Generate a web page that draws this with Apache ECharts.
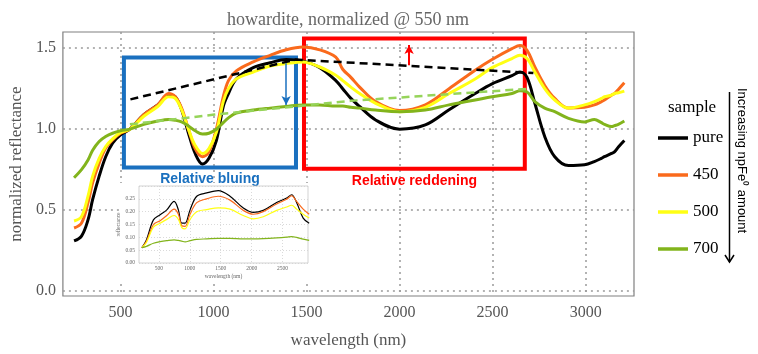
<!DOCTYPE html>
<html><head><meta charset="utf-8">
<script src="https://cdn.jsdelivr.net/npm/echarts@6/dist/echarts.min.js"></script>
<style>html,body{margin:0;padding:0;background:#fff}#c{width:758px;height:354px}</style>
</head><body><div id="c"></div><script>
// ---- main panel data (normalized @ 550 nm) ----
const wavelength = [250,290,325,350,385,420,457,500,550,625,700,758,794,828,865,901,940,975,1015,1052,1080,1122,1213,1304,1390,1480,1571,1657,1694,1738,1785,1871,2000,2138,2266,2406,2497,2604,2647,2685,2727,2780,2834,2908,2994,3047,3085,3101,3139,3155,3176,3208];
const pure   = [0.31,0.34,0.44,0.566,0.71,0.83,0.914,0.965,1.0,1.09,1.15,1.21,1.20,1.12,0.975,0.85,0.785,0.82,0.93,1.14,1.22,1.31,1.38,1.41,1.43,1.42,1.38,1.30,1.25,1.19,1.14,1.057,1.0,1.026,1.12,1.22,1.28,1.33,1.353,1.32,1.16,0.955,0.83,0.775,0.78,0.80,0.82,0.83,0.85,0.86,0.89,0.93];
const s450   = [0.39,0.42,0.546,0.67,0.79,0.883,0.934,0.975,1.0,1.09,1.15,1.22,1.20,1.13,1.0,0.88,0.83,0.86,1.0,1.20,1.30,1.36,1.415,1.456,1.49,1.507,1.49,1.445,1.37,1.32,1.26,1.17,1.115,1.15,1.25,1.364,1.43,1.497,1.517,1.487,1.384,1.27,1.19,1.13,1.135,1.15,1.17,1.18,1.21,1.22,1.245,1.286];
const s500   = [0.433,0.46,0.587,0.71,0.82,0.893,0.94,0.98,1.0,1.08,1.14,1.20,1.19,1.12,1.0,0.90,0.85,0.88,0.98,1.17,1.25,1.31,1.353,1.39,1.405,1.415,1.384,1.333,1.30,1.26,1.22,1.16,1.108,1.135,1.22,1.31,1.38,1.436,1.456,1.436,1.353,1.25,1.18,1.13,1.15,1.17,1.19,1.20,1.21,1.22,1.225,1.235];
const s700   = [0.70,0.75,0.81,0.87,0.924,0.955,0.975,0.99,1.0,1.03,1.05,1.06,1.055,1.045,1.02,0.99,0.97,0.975,1.0,1.04,1.07,1.10,1.118,1.13,1.14,1.15,1.15,1.143,1.143,1.135,1.13,1.118,1.108,1.118,1.15,1.18,1.20,1.22,1.237,1.23,1.17,1.13,1.108,1.067,1.045,1.06,1.04,1.03,1.016,1.022,1.03,1.05];
const continuumPure = [[553,1.184],[1443,1.43],[2719,1.347]];
const continuum700  = [[550,1.03],[1005,1.09],[1738,1.175],[2697,1.25]];
const bluingBox = [[518,1.443],[1443,0.763]];
const reddeningBox = [[1486,1.56],[2673,0.756]];
const bluingArrow = [[1390,1.407],[1390,1.15]];
const reddeningArrow = [[2051,1.395],[2051,1.52]];
const xTicks = [500,1000,1500,2000,2500,3000];
const yTicks = [0,0.5,1.0,1.5];
// ---- inset data (absolute reflectance) ----
const insetWl   = [226,300,413,521,629,747,816,871,924,1005,1113,1274,1461,1650,1865,2026,2187,2403,2565,2645,2726,2832,2929];
const insetPure = [0.059,0.09,0.168,0.188,0.207,0.24,0.207,0.155,0.155,0.207,0.26,0.273,0.282,0.26,0.214,0.197,0.205,0.236,0.253,0.266,0.236,0.175,0.155];
const inset450  = [0.06,0.085,0.15,0.165,0.185,0.21,0.19,0.145,0.143,0.19,0.235,0.25,0.26,0.245,0.205,0.19,0.2,0.23,0.248,0.262,0.24,0.21,0.19];
const inset500  = [0.06,0.08,0.14,0.155,0.17,0.185,0.17,0.138,0.133,0.17,0.2,0.208,0.215,0.21,0.185,0.172,0.18,0.205,0.218,0.225,0.21,0.19,0.175];
const inset700  = [0.06,0.065,0.077,0.083,0.087,0.09,0.088,0.085,0.082,0.087,0.092,0.094,0.096,0.096,0.094,0.094,0.095,0.098,0.101,0.103,0.1,0.093,0.088];
const insetXTicks = [500,1000,1500,2000,2500];

const zip = (xs, ys) => xs.map((x, i) => [x, ys[i]]);
const SERIF = 'Liberation Serif';
const SANS = 'Liberation Sans';
const colors = {pure:'#000000', '450':'#fa6a1c', '500':'#ffff14', '700':'#82b41c'};

const chart = echarts.init(document.getElementById('c'), null, {renderer:'canvas'});
const mainLine = (name, vals) => ({
  name, type:'line', data: zip(wavelength, vals), symbol:'none', smooth:0.35,
  color: colors[name], lineStyle:{width:3, color: colors[name]}, z:3
});
const insetLine = (name, vals) => ({
  name:'inset '+name, type:'line', xAxisIndex:1, yAxisIndex:1, data: zip(insetWl, vals),
  symbol:'none', smooth:0.35, lineStyle:{width:1.2, color: colors[name]}, z:7
});
const gridDots = {show:true, lineStyle:{color:'#9a9a9a', type:[2,4], width:1.5}};

chart.setOption({
  animation:false,
  backgroundColor:'#fff',
  title:{text:'howardite, normalized @ 550 nm', left:222, top:6,
    textStyle:{fontFamily:SERIF, fontSize:18, fontWeight:'normal', color:'#666'}},
  legend:{data:['pure','450','500','700'], orient:'vertical', left:653, top:123,
    icon:'rect', itemWidth:30, itemHeight:3.5, itemGap:17,
    textStyle:{fontFamily:SERIF, fontSize:17, color:'#000', lineHeight:20}},
  grid:[
    {left:59, right:124, top:32, bottom:57, show:true, borderColor:'#808080', borderWidth:1.2},
    {left:139, top:186, width:169, height:77, show:true, borderColor:'#c8c8c8', borderWidth:0.8, z:6}
  ],
  xAxis:[
    {type:'value', gridIndex:0, min:190, max:3260,
     axisLine:{show:false}, axisTick:{show:false, customValues:xTicks},
     axisLabel:{customValues:xTicks, formatter:v=>String(v), fontFamily:SERIF, fontSize:16, color:'#555', margin:9},
     splitLine:gridDots,
     name:'wavelength (nm)', nameLocation:'middle', nameGap:36,
     nameTextStyle:{fontFamily:SERIF, fontSize:17, color:'#555'}},
    {type:'value', gridIndex:1, min:180, max:2910, z:6,
     axisLine:{show:false}, axisTick:{show:false, customValues:insetXTicks},
     axisLabel:{customValues:insetXTicks, formatter:v=>String(v), fontFamily:SERIF, fontSize:5.5, color:'#666', margin:3},
     splitLine:{show:true, lineStyle:{color:'#d0d0d0', type:[1,2], width:0.8}},
     name:'wavelength (nm)', nameLocation:'middle', nameGap:11,
     nameTextStyle:{fontFamily:SERIF, fontSize:5.5, color:'#666'}}
  ],
  yAxis:[
    {type:'value', gridIndex:0, min:-0.03, max:1.6,
     axisLine:{show:false}, axisTick:{show:false, customValues:yTicks},
     axisLabel:{customValues:yTicks, formatter:v=>v.toFixed(1), fontFamily:SERIF, fontSize:16, color:'#555', margin:7},
     splitLine:gridDots,
     name:'normalized reflectance', nameLocation:'middle', nameGap:22,
     nameTextStyle:{fontFamily:SERIF, fontSize:17, color:'#555'}},
    {type:'value', gridIndex:1, min:0, max:0.30, interval:0.05, z:6,
     axisLine:{show:false}, axisTick:{show:false},
     axisLabel:{formatter:v=>v.toFixed(2), showMaxLabel:false, fontFamily:SERIF, fontSize:5.5, color:'#666', margin:4},
     splitLine:{show:true, lineStyle:{color:'#d0d0d0', type:[1,2], width:0.8}},
     name:'reflectance', nameLocation:'middle', nameGap:15,
     nameTextStyle:{fontFamily:SERIF, fontSize:5.5, color:'#666'}}
  ],
  graphic:[
    {type:'rect', shape:{x:119, y:183, width:191, height:98}, style:{fill:'#fff'}, z:1, silent:true},
    {type:'text', left:668, top:99, style:{text:'sample', font:'17px "Liberation Serif"', fill:'#000'}},
    {type:'line', shape:{x1:729.5, y1:92, x2:729.5, y2:262}, style:{stroke:'#000', lineWidth:1.5}},
    {type:'polyline', shape:{points:[[725,255],[729.5,262],[734,255]]}, style:{stroke:'#000', lineWidth:1.5, fill:null}},
    {type:'text', x:741.5, y:88, rotation:-Math.PI/2,
     style:{text:'Increasing npFe\u2070 amount', font:'13px "Liberation Sans"', fill:'#000', align:'left', verticalAlign:'middle'}}
  ],
  series:[
    {name:'continuum pure', type:'line', data:continuumPure, symbol:'none',
     lineStyle:{color:'#000', width:2.5, type:[8,5]}, z:4,
     markArea:{silent:true, data:[
       [{name:'Relative bluing', coord:bluingBox[0], itemStyle:{color:'rgba(0,0,0,0)', borderColor:'#1a70bf', borderWidth:4},
         label:{color:'#1a70bf'}}, {coord:bluingBox[1]}],
       [{name:'Relative reddening', coord:reddeningBox[0], itemStyle:{color:'rgba(0,0,0,0)', borderColor:'#ff0000', borderWidth:4},
         label:{color:'#ff0000'}}, {coord:reddeningBox[1]}]
     ], label:{show:true, position:'bottom', distance:3, fontFamily:SANS, fontWeight:'bold', fontSize:14}}},
    {name:'continuum 700', type:'line', data:continuum700, symbol:'none',
     lineStyle:{color:'#96d45a', width:2.5, type:[8,5]}, z:4},
    mainLine('pure', pure),
    mainLine('450', s450),
    mainLine('500', s500),
    mainLine('700', s700),
    {name:'arrows', type:'line', data:[], symbol:'none',
     markLine:{silent:true, symbol:['none','arrow'], symbolSize:[7,9], label:{show:false},
       data:[
         [{coord:bluingArrow[0], lineStyle:{color:'#1a70bf', width:1.5, type:'solid'}}, {coord:bluingArrow[1]}],
         [{coord:reddeningArrow[0], lineStyle:{color:'#ff0000', width:2, type:'solid'}}, {coord:reddeningArrow[1]}]
       ]}},
    insetLine('pure', insetPure),
    insetLine('450', inset450),
    insetLine('500', inset500),
    insetLine('700', inset700)
  ]
});
</script></body></html>
